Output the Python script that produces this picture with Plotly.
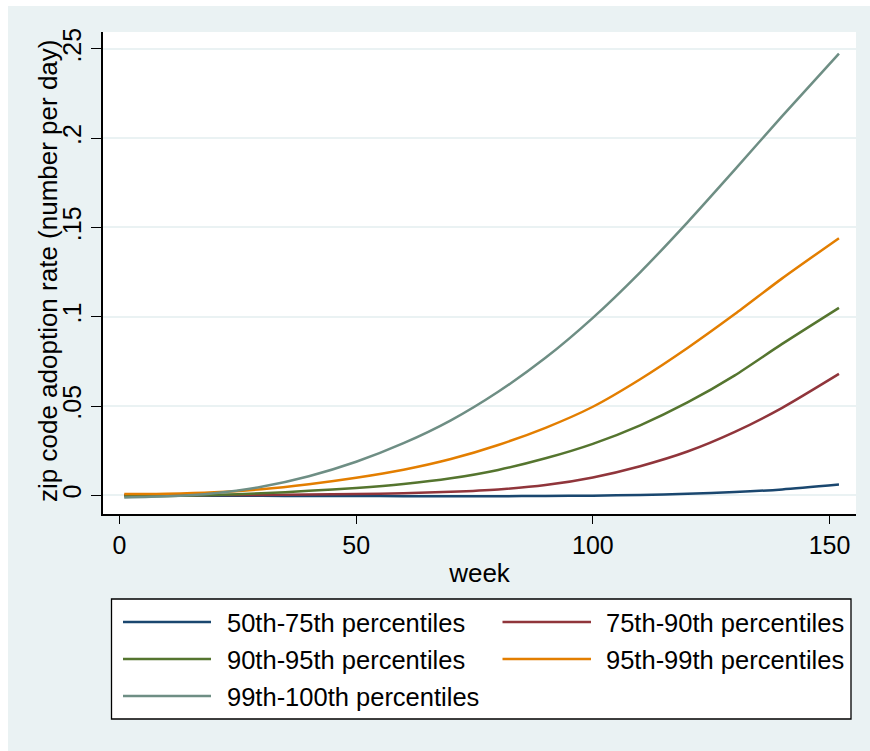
import plotly.graph_objects as go

# Fitted adoption-rate curves by zip-code size percentile group
weeks = [1, 10, 20, 30, 40, 50, 60, 70, 80, 90, 100, 110, 120, 130, 140, 152]
p50_75 = [0.0, -0.0001, -0.0002, -0.0003, -0.0004, -0.0004, -0.0005, -0.0005,
          -0.0005, -0.0004, -0.0002, 0.0002, 0.0008, 0.0018, 0.0033, 0.0060]
p75_90 = [0.0, 0.0, 0.0001, 0.0002, 0.0004, 0.0007, 0.0012, 0.0020,
          0.0033, 0.0057, 0.0100, 0.0163, 0.0245, 0.0355, 0.0490, 0.0680]
p90_95 = [-0.0006, -0.0004, 0.0002, 0.0011, 0.0025, 0.0041, 0.0063, 0.0095,
          0.0142, 0.0207, 0.0288, 0.0392, 0.0520, 0.0672, 0.0848, 0.1050]
p95_99 = [0.0007, 0.0009, 0.0017, 0.0034, 0.0062, 0.0098, 0.0143, 0.0203,
          0.0282, 0.0378, 0.0496, 0.0650, 0.0825, 0.1015, 0.1215, 0.1440]
p99_100 = [-0.0012, -0.0006, 0.0012, 0.0048, 0.0107, 0.0188, 0.0292, 0.0420,
           0.0580, 0.0770, 0.0994, 0.1249, 0.1529, 0.1824, 0.2124, 0.2474]

series_names = ["50th-75th percentiles", "75th-90th percentiles",
                "90th-95th percentiles", "95th-99th percentiles",
                "99th-100th percentiles"]
series_values = [p50_75, p75_90, p90_95, p95_99, p99_100]
series_colors = ["#1a476f", "#90353b", "#55752f", "#e37e00", "#6e8e84"]

x_ticks = [0, 50, 100, 150]
y_ticks = [0, 0.05, 0.1, 0.15, 0.2, 0.25]
y_tick_text = ["0", ".05", ".1", ".15", ".2", ".25"]
y_title = "zip code adoption rate (number per day)"

W, H = 870, 751
ML, MR, MT, MB = 103, 14, 32, 237
PW, PH = W - ML - MR, H - MT - MB
BG = "#EAF2F3"
FONT = "Liberation Sans, Arial, Helvetica, sans-serif"


def px(x):
    return (x - ML) / PW


def py(y):
    return (H - MB - y) / PH


fig = go.Figure()
for name, vals, col in zip(series_names, series_values, series_colors):
    fig.add_trace(go.Scatter(
        x=weeks, y=vals, mode="lines", name=name,
        line=dict(color=col, width=2.5, shape="spline", smoothing=0.7),
        showlegend=False,
    ))

shapes = [
    # graph region background
    dict(type="rect", xref="paper", yref="paper", x0=px(8), x1=px(W + 5),
         y0=py(H + 5), y1=py(6), fillcolor=BG, line=dict(width=0), layer="below"),
    # plot region
    dict(type="rect", xref="paper", yref="paper", x0=0, x1=1, y0=0, y1=1,
         fillcolor="white", line=dict(width=0), layer="below"),
    # legend box
    dict(type="rect", xref="paper", yref="paper", x0=px(111.5), x1=px(851),
         y0=py(719), y1=py(599), fillcolor="white",
         line=dict(color="black", width=1.3), layer="above"),
]

annotations = [
    # y-axis title, set tight against the rotated tick labels
    dict(xref="paper", yref="paper", x=px(48), y=py(271), text=y_title,
         textangle=-90, showarrow=False, xanchor="center", yanchor="middle",
         font=dict(family=FONT, size=26, color="black")),
]
col_x = [(123, 211, 225), (502.5, 591, 604)]
row_y = [623, 660, 697]
for i, (name, col) in enumerate(zip(series_names, series_colors)):
    r, c = divmod(i, 2)
    x0, x1, xt = col_x[c]
    yy = row_y[r]
    shapes.append(dict(type="line", xref="paper", yref="paper",
                       x0=px(x0), x1=px(x1), y0=py(yy - 1), y1=py(yy - 1),
                       line=dict(color=col, width=2.5), layer="above"))
    annotations.append(dict(xref="paper", yref="paper", x=px(xt), y=py(yy),
                            text=name, showarrow=False, xanchor="left",
                            yanchor="middle",
                            font=dict(family=FONT, size=25.5, color="black")))

fig.update_layout(
    width=W, height=H,
    margin=dict(l=ML, r=MR, t=MT, b=MB, pad=0),
    paper_bgcolor="white", plot_bgcolor="white",
    font=dict(family=FONT, size=25, color="black"),
    shapes=shapes, annotations=annotations,
    xaxis=dict(
        range=[-3.49, 155.6], tickvals=x_ticks, ticks="outside", ticklen=8,
        tickwidth=1.3, tickcolor="black", showline=True, linecolor="black",
        linewidth=1.5, showgrid=False, zeroline=False,
        tickfont=dict(size=25), title=dict(text="week", font=dict(size=26), standoff=6),
    ),
    yaxis=dict(
        range=[-0.01048, 0.2595], tickvals=y_ticks, ticktext=y_tick_text,
        ticks="outside", ticklen=10, tickwidth=1.3, tickcolor="black",
        tickangle=-90, showline=True, linecolor="black",
        linewidth=1.5, showgrid=True, gridcolor=BG, gridwidth=2, zeroline=False,
        tickfont=dict(size=25),
    ),
)

fig.write_html("out.html")
